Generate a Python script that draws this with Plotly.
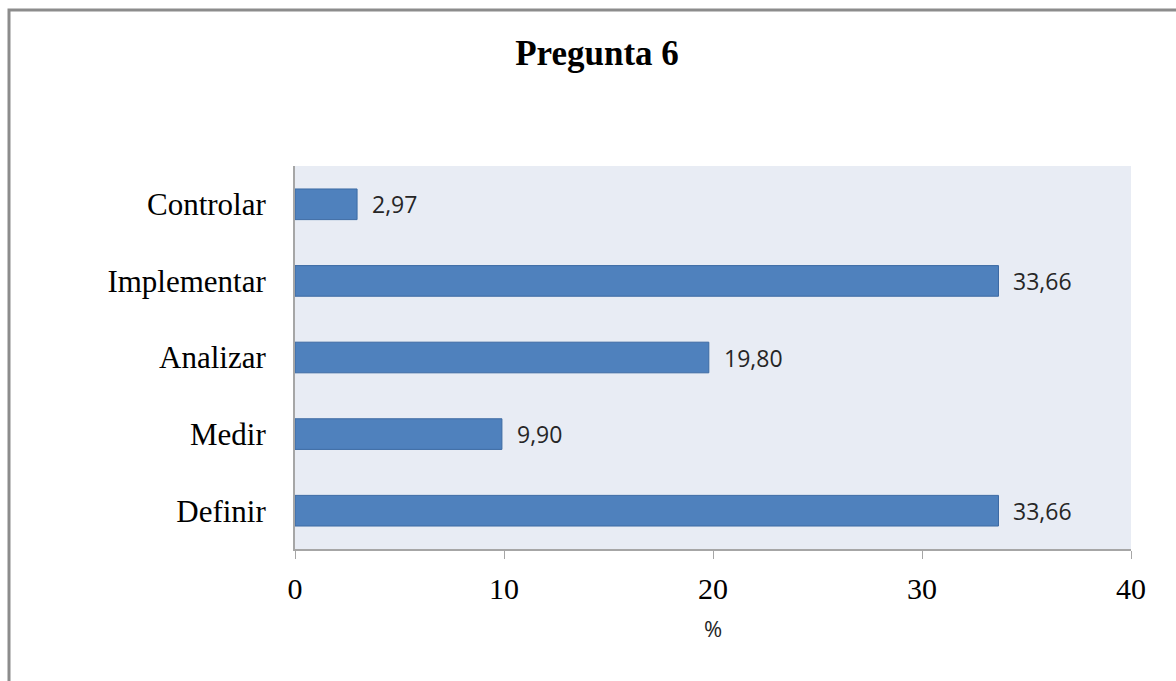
import plotly.graph_objects as go

# Survey results, question 6 (percent of responses per phase)
categories = ["Definir", "Medir", "Analizar", "Implementar", "Controlar"]
percentages = [33.66, 9.90, 19.80, 33.66, 2.97]
x_ticks = [0, 10, 20, 30, 40]

BAR_FILL = "#4F81BD"
BAR_EDGE = "#3C6AA3"
PLOT_BG = "#E8ECF4"
AXIS_GRAY = "#A6A6A6"
SERIF = "Liberation Serif, Times New Roman, serif"
SANS = "Open Sans, Lato, sans-serif"

W, H = 1176, 681
L, R, T, B = 295, 45, 166, 132
plot_w = W - L - R
plot_h = H - T - B


def px_to_paper_x(px):
    return (px - L) / plot_w


def px_to_paper_y(py):
    return (H - B - py) / plot_h


fig = go.Figure(
    go.Bar(
        x=percentages,
        y=categories,
        orientation="h",
        marker=dict(color=BAR_FILL, line=dict(color=BAR_EDGE, width=1)),
        hoverinfo="skip",
    )
)

# value labels just past the end of each bar
for cat, val in zip(categories, percentages):
    fig.add_annotation(
        x=val,
        y=cat,
        xref="x",
        yref="y",
        text=f"{val:.2f}".replace(".", ","),
        showarrow=False,
        xanchor="left",
        yanchor="middle",
        xshift=13,
        font=dict(family=SANS, size=23, color="#262626"),
    )

# outer chart frame (left and top edges visible)
fig.add_shape(
    type="rect",
    xref="paper",
    yref="paper",
    x0=px_to_paper_x(9),
    x1=px_to_paper_x(W + 20),
    y0=px_to_paper_y(H + 20),
    y1=px_to_paper_y(10),
    line=dict(color="#8C8C8C", width=3),
    fillcolor="rgba(0,0,0,0)",
    layer="below",
)

fig.update_layout(
    width=W,
    height=H,
    margin=dict(l=L, r=R, t=T, b=B, autoexpand=False),
    paper_bgcolor="white",
    plot_bgcolor=PLOT_BG,
    bargap=0.6,
    showlegend=False,
    title=dict(
        text="<b>Pregunta 6</b>",
        x=597 / W,
        xanchor="center",
        y=1 - 53 / H,
        yanchor="middle",
        font=dict(family=SERIF, size=35, color="black"),
    ),
    xaxis=dict(
        range=[0, 40],
        tickvals=x_ticks,
        ticks="outside",
        ticklen=8,
        tickcolor=AXIS_GRAY,
        tickwidth=1,
        showline=True,
        linecolor=AXIS_GRAY,
        linewidth=2,
        showgrid=False,
        zeroline=False,
        ticklabelstandoff=4,
        tickfont=dict(family=SERIF, size=30, color="black"),
        title=dict(
            text="%",
            standoff=18,
            font=dict(family=SANS, size=22, color="#262626"),
        ),
        fixedrange=True,
    ),
    yaxis=dict(
        showline=True,
        linecolor=AXIS_GRAY,
        linewidth=2,
        ticks="",
        showgrid=False,
        zeroline=False,
        ticklabelstandoff=21,
        tickfont=dict(family=SERIF, size=31, color="black"),
        fixedrange=True,
    ),
)

fig.write_html("out.html", config={"displayModeBar": False})
